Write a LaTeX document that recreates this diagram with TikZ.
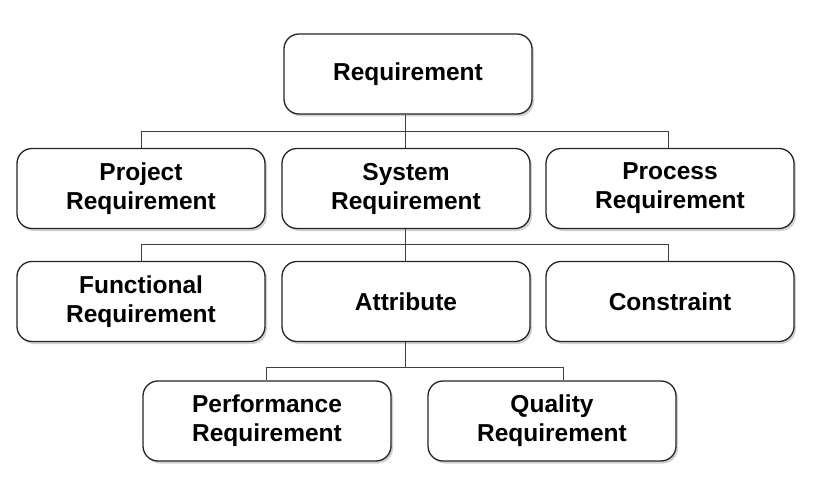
\documentclass[tikz,border=0pt]{standalone}
\usepackage{fontspec}
\setmainfont{Liberation Sans}
\usetikzlibrary{shadows}
\begin{document}
\begin{tikzpicture}[x=1pt,y=-1pt,
  box/.style={draw=black!85, line width=1.3pt, rounded corners=15pt, fill=white,
    minimum width=248pt, minimum height=80pt, align=center,
    font=\fontsize{24.5}{29}\selectfont\bfseries,
    drop shadow={shadow xshift=2pt, shadow yshift=-2.5pt, fill=black!25, opacity=0.7}},
  conn/.style={draw=black!75, line width=0.9pt}]
\useasboundingbox (0,0) rectangle (815,495);
% boxes
\node[box] (req)  at (408,74)  {Requirement};
\node[box] (proj) at (141,188.5) {Project\\Requirement};
\node[box] (sys)  at (406,188.5) {System\\Requirement};
\node[box] (proc) at (670,188.5) {Process\\Requirement};
\node[box] (func) at (141,301.5) {Functional\\Requirement};
\node[box] (attr) at (406,301.5) {Attribute};
\node[box] (cons) at (670,301.5) {Constraint};
\node[box] (perf) at (267,421) {Performance\\Requirement};
\node[box] (qual) at (552,421) {Quality\\Requirement};
% bus coordinates
\coordinate (b1) at (405,131.5);
\coordinate (b1r) at (668,131.5);
\coordinate (b2) at (405,244);
\coordinate (b2r) at (668,244);
\coordinate (b3) at (405,367);
\coordinate (b3r) at (563,367);
\coordinate (b3l) at (266,367);
% connectors
\begin{scope}[on background layer/.style={}]
\draw[conn] (req.south -| b1) -- (b1);
\draw[conn] (proj.north) |- (b1r) -- (b1r |- proc.north);
\draw[conn] (sys.north -| b1) -- (b1);
\draw[conn] (sys.south -| b2) -- (b2);
\draw[conn] (func.north) |- (b2r) -- (b2r |- cons.north);
\draw[conn] (attr.north -| b2) -- (b2);
\draw[conn] (attr.south -| b3) -- (b3);
\draw[conn] (perf.north -| b3l) -- (b3l) -- (b3r) -- (b3r |- qual.north);
\end{scope}
\end{tikzpicture}
\end{document}
